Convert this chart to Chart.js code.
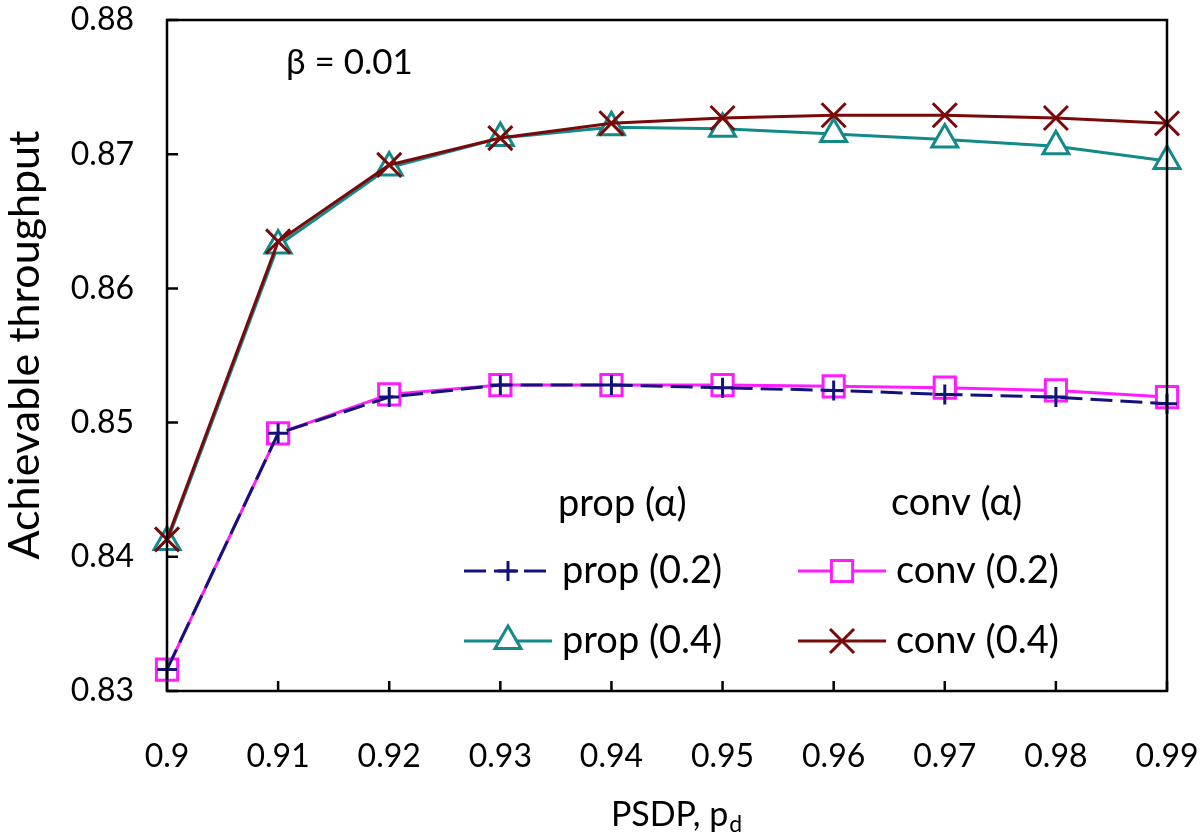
<!DOCTYPE html>
<html>
<head>
<meta charset="utf-8">
<script src="https://cdn.jsdelivr.net/npm/chart.js@4.4.1/dist/chart.umd.min.js"></script>
<style>
  html, body { margin: 0; padding: 0; background: #fff; }
</style>
</head>
<body>
<canvas id="throughputChart" width="1200" height="835"></canvas>
<script>
// PSDP values on the x axis
const pdLabels = ["0.9", "0.91", "0.92", "0.93", "0.94", "0.95", "0.96", "0.97", "0.98", "0.99"];
const yTickValues = [0.83, 0.84, 0.85, 0.86, 0.87, 0.88];

// achievable throughput
const prop02 = [0.8316, 0.8492, 0.8519, 0.8528, 0.8528, 0.8526, 0.8524, 0.8521, 0.8519, 0.8514];
const prop04 = [0.8411, 0.8632, 0.8690, 0.8712, 0.8720, 0.8719, 0.8715, 0.8711, 0.8706, 0.8695];
const conv02 = [0.8316, 0.8492, 0.8521, 0.8528, 0.8528, 0.8528, 0.8527, 0.8526, 0.8524, 0.8519];
const conv04 = [0.8413, 0.8635, 0.8692, 0.8712, 0.8723, 0.8727, 0.8729, 0.8729, 0.8727, 0.8723];

const FONT = "Lato";
const NAVY = "#12127a";
const TEAL = "#138a8a";
const PINK = "#ff1cff";
const MAROON = "#7a0a0a";

// frame, inward ticks, legend, annotation and axis titles
const decorations = {
  id: "decorations",
  afterDatasetsDraw(chart) {
    const { ctx, chartArea: a, scales } = chart;
    const x = scales.x, y = scales.y;
    ctx.save();
    ctx.strokeStyle = "#000";
    ctx.lineWidth = 2.5;
    ctx.strokeRect(a.left, a.top, a.right - a.left, a.bottom - a.top);

    ctx.beginPath();
    x.ticks.forEach((t, i) => {
      const px = x.getPixelForTick(i);
      ctx.moveTo(px, a.bottom);
      ctx.lineTo(px, a.bottom - 10);
    });
    y.ticks.forEach((t, i) => {
      const py = y.getPixelForTick(i);
      ctx.moveTo(a.left, py);
      ctx.lineTo(a.left + 11, py);
    });
    ctx.stroke();

    ctx.fillStyle = "#000";
    ctx.textBaseline = "middle";
    ctx.textAlign = "left";
    ctx.font = "35px " + FONT;
    ctx.fillText("\u03b2 = 0.01", 286, 63);
    ctx.font = "38px " + FONT;
    ctx.fillText("prop (\u03b1)", 558, 504);
    ctx.fillText("conv (\u03b1)", 891, 503);

    // legend entries
    const entries = [
      { ds: 0, x0: 464, y0: 571 },
      { ds: 1, x0: 464, y0: 641 },
      { ds: 2, x0: 798, y0: 571 },
      { ds: 3, x0: 798, y0: 641 },
    ];
    entries.forEach((e) => {
      const d = chart.data.datasets[e.ds];
      ctx.save();
      ctx.strokeStyle = d.borderColor;
      ctx.lineWidth = d.borderWidth;
      ctx.setLineDash(d.borderDash || []);
      ctx.beginPath();
      ctx.moveTo(e.x0, e.y0);
      ctx.lineTo(e.x0 + 88, e.y0);
      ctx.stroke();
      ctx.setLineDash([]);
      ctx.fillStyle = d.pointBackgroundColor;
      ctx.strokeStyle = d.pointBorderColor;
      ctx.lineWidth = d.pointBorderWidth;
      Chart.helpers.drawPoint(ctx, {
        pointStyle: d.pointStyle,
        radius: d.pointRadius,
        rotation: 0,
        borderWidth: d.pointBorderWidth,
      }, e.x0 + 44, e.y0);
      ctx.restore();
      ctx.fillStyle = "#000";
      ctx.font = "38px " + FONT;
      ctx.fillText(d.label, e.x0 + 98, e.y0);
    });

    // y axis title
    ctx.save();
    ctx.translate(25, 345);
    ctx.rotate(-Math.PI / 2);
    ctx.textAlign = "center";
    ctx.font = "43px " + FONT;
    ctx.fillText("Achievable throughput", 0, 0);
    ctx.restore();

    // x axis title with subscript
    const main = "PSDP, p";
    ctx.font = "34px " + FONT;
    const w1 = ctx.measureText(main).width;
    ctx.font = "23px " + FONT;
    const w2 = ctx.measureText("d").width;
    const sx = 676 - (w1 + w2) / 2;
    ctx.textBaseline = "alphabetic";
    ctx.font = "34px " + FONT;
    ctx.fillText(main, sx, 826);
    ctx.font = "23px " + FONT;
    ctx.fillText("d", sx + w1 + 1, 832);
    ctx.restore();
  },
};

new Chart(document.getElementById("throughputChart"), {
  type: "line",
  data: {
    labels: pdLabels,
    datasets: [
      {
        label: "prop (0.2)",
        data: prop02,
        borderColor: NAVY,
        borderWidth: 3,
        borderDash: [22, 8],
        pointStyle: "cross",
        pointRadius: 10,
        pointBorderWidth: 3,
        pointBorderColor: NAVY,
        pointBackgroundColor: NAVY,
        order: 1,
      },
      {
        label: "prop (0.4)",
        data: prop04,
        borderColor: TEAL,
        borderWidth: 3,
        pointStyle: "triangle",
        pointRadius: 15,
        pointBorderWidth: 3,
        pointBorderColor: TEAL,
        pointBackgroundColor: "#fff",
        order: 4,
      },
      {
        label: "conv (0.2)",
        data: conv02,
        borderColor: PINK,
        borderWidth: 3,
        pointStyle: "rect",
        pointRadius: 15,
        pointBorderWidth: 3,
        pointBorderColor: PINK,
        pointBackgroundColor: "#fff",
        order: 2,
      },
      {
        label: "conv (0.4)",
        data: conv04,
        borderColor: MAROON,
        borderWidth: 3,
        pointStyle: "crossRot",
        pointRadius: 17,
        pointBorderWidth: 3,
        pointBorderColor: MAROON,
        pointBackgroundColor: MAROON,
        order: 3,
      },
    ],
  },
  options: {
    responsive: false,
    animation: false,
    devicePixelRatio: 1,
    layout: { padding: { top: 12, right: 33, left: 0, bottom: 0 } },
    elements: { line: { tension: 0 } },
    datasets: { line: { clip: false } },
    plugins: { legend: { display: false }, tooltip: { enabled: false } },
    scales: {
      x: {
        type: "category",
        offset: false,
        grid: { display: false, drawTicks: true, tickLength: 46 },
        border: { display: false },
        ticks: {
          color: "#000",
          padding: 0,
          maxRotation: 0,
          autoSkip: false,
          font: { family: FONT, size: 32 },
        },
        afterFit(scale) { scale.height = 144; },
      },
      y: {
        min: 0.83,
        max: 0.88,
        grid: { display: false, drawTicks: true, tickLength: 33 },
        border: { display: false },
        afterBuildTicks(scale) {
          scale.ticks = yTickValues.map((v) => ({ value: v }));
        },
        ticks: {
          color: "#000",
          padding: 0,
          callback: (v) => v.toFixed(2),
          font: { family: FONT, size: 32, lineHeight: "24px" },
        },
        afterFit(scale) { scale.width = 167; },
      },
    },
  },
  plugins: [decorations],
});
</script>
</body>
</html>
